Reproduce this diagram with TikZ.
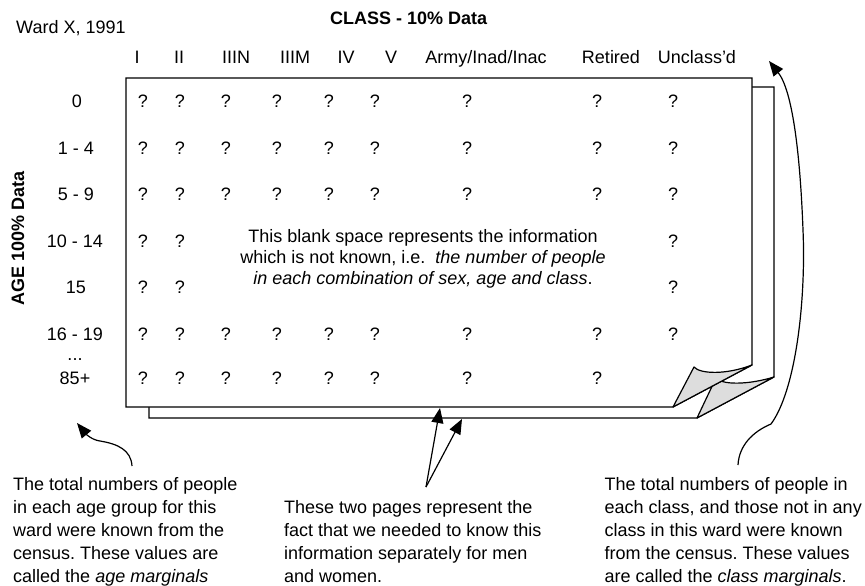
\documentclass[tikz,border=0pt]{standalone}
\usepackage{fontspec}
\setmainfont{Liberation Sans}
\usetikzlibrary{arrows.meta}
\definecolor{curlgray}{RGB}{221,221,221}
\frenchspacing
\begin{document}
\begin{tikzpicture}[x=1pt,y=-1pt,
  txt/.style={inner sep=0pt, font=\fontsize{18}{23}\selectfont},
  qm/.style={txt, anchor=base},
  hdr/.style={txt, anchor=base},
  rowlab/.style={txt, anchor=base},
  note/.style={txt, align=left},
  pageline/.style={draw=black, line width=1.2pt, fill=white, line join=miter},
  curl/.style={draw=black, line width=1.2pt, fill=curlgray, line join=round},
  arr/.style={-{Triangle[length=15pt,width=12pt]}, line width=1.2pt}]
\useasboundingbox (0,0) rectangle (865,586);

% titles
\node[txt, anchor=base west] (ward) at (16,34) {Ward X, 1991};
\node[txt, anchor=base west, font=\fontsize{18}{23}\selectfont\bfseries] (cls) at (330,25) {CLASS - 10\% Data};
\node[txt, anchor=center, rotate=90, font=\fontsize{18}{23}\selectfont\bfseries] (age) at (18,238) {AGE 100\% Data};

% back page with its folded corner
\draw[pageline] (149,87) -- (774,87) -- (774,377) -- (697,418) -- (149,418) -- cycle;
\draw[curl] (716,378) .. controls (722,385) and (748,385) .. (774,377) -- (697,418) -- cycle;

% front page with its folded corner
\draw[pageline] (126,78) -- (752,78) -- (752,365) -- (673,407) -- (126,407) -- cycle;
\draw[curl] (694,367) .. controls (700,374) and (726,375) .. (752,365) -- (673,407) -- cycle;

% class headers
\foreach \xh/\t [count=\c] in {137/I,179/II,236/IIIN,295/IIIM,346/IV,391/V,486/Army\slash Inad\slash Inac,611/Retired,697/Unclass'd}
  \node[hdr] (h\c) at (\xh,64) {\t};

% age labels
\node[rowlab] (ra) at (77,107) {0};
\node[rowlab] (rb) at (76,154) {1 - 4};
\node[rowlab] (rc) at (76,200) {5 - 9};
\node[rowlab] (rd) at (75,247) {10 - 14};
\node[rowlab] (re) at (76,293) {15};
\node[rowlab] (rf) at (75,340) {16 - 19};
\node[rowlab] (rdots) at (75,360) {...};
\node[rowlab] (rg) at (75,384) {85+};

% unknown cells
\foreach \yb/\rn in {107/a,154/b,200/c,340/f}{
  \foreach \xq [count=\c] in {143,180,226,277,329,375,467,597,673}
    \node[qm] (q\rn\c) at (\xq,\yb) {?};
}
\foreach \yb/\rn in {247/d,293/e}{
  \foreach \xq [count=\c] in {143,180}
    \node[qm] (q\rn\c) at (\xq,\yb) {?};
  \node[qm] (q\rn9) at (673,\yb) {?};
}
\foreach \xq [count=\c] in {143,180,226,277,329,375,467,597}
  \node[qm] (qg\c) at (\xq,384) {?};

% blank-space explanation
\node[txt, align=center, font=\fontsize{18}{21}\selectfont, anchor=north] (blank) at (423,229)
  {This blank space represents the information\\
   which is not known, i.e.\ \ \textit{the number of people}\\
   \textit{in each combination of sex, age and class}.};

% notes
\node[note, anchor=north west] (nleft) at (13,477)
  {The total numbers of people\\
   in each age group for this\\
   ward were known from the\\
   census. These values are\\
   called the \textit{age marginals}};
\node[note, anchor=north west] (nmid) at (284,500)
  {These two pages represent the\\
   fact that we needed to know this\\
   information separately for men\\
   and women.};
\node[note, anchor=north east] (nright) at (862,477)
  {The total numbers of people in\\
   each class, and those not in any\\
   class in this ward were known\\
   from the census. These values\\
   are called the \textit{class marginals}.};

% connectors
\coordinate (mfoot) at (426,487);
\coordinate (frontedge) at (440,408);
\coordinate (backedge) at (462,419);
\draw[arr] (mfoot) -- (frontedge);
\draw[arr] (mfoot) -- (backedge);

\coordinate (lfoot) at (132,466);
\coordinate (ltip) at (77,423);
\draw[arr] (lfoot) .. controls (131,450) and (118,444) .. (100,441)
  .. controls (92,440) and (86,434) .. (ltip);

\coordinate (rfoot) at (738,465);
\coordinate (rtip) at (769,61);
\draw[arr] (rfoot) .. controls (739,446) and (752,432) .. (771,424)
  .. controls (796,390) and (806,300) .. (803,230)
  .. controls (800,150) and (792,90) .. (rtip);
\end{tikzpicture}
\end{document}
